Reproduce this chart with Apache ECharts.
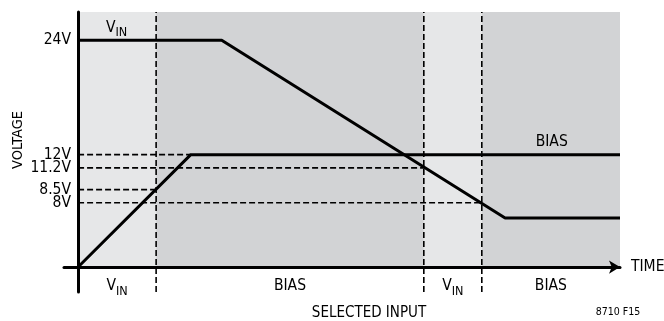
<!DOCTYPE html>
<html>
<head>
<meta charset="utf-8">
<script src="https://cdn.jsdelivr.net/npm/echarts@6/dist/echarts.min.js"></script>
<style>
  html, body { margin: 0; padding: 0; background: #fff; }
  #chart { width: 664px; height: 321px; }
</style>
</head>
<body>
<div id="chart"></div>
<script>
  // schematic diagram: time runs 0..100, voltages sit where the figure draws them
  const voltageTicks = [24, 11.9, 10.5, 8.2, 6.8];
  const voltageLabels = ['24V', '12V', '11.2V', '8.5V', '8V'];
  const levelEnds = [0, 20.8, 63.8, 14.4, 74.5];   // dashed level line stops here (0 = none)
  const vinPath = [[0, 24], [26.5, 24], [78.8, 5.2], [100, 5.2]];
  const biasPath = [[0, 0], [20.8, 11.9], [100, 11.9]];
  const regionEdges = [0, 14.4, 63.8, 74.5, 100];
  const regionInputs = ['VIN', 'BIAS', 'VIN', 'BIAS'];
  const vinTag = [7.1, 25.3];
  const biasTag = [87.4, 13.2];

  const XMIN = -2.6, XMAX = 100, YMIN = -2.64, YMAX = 27;
  const FONT = '"Liberation Sans Narrow", "DejaVu Sans Condensed", sans-serif';
  const FS = 15.5;
  const INK = '#000';
  const shades = ['#e6e7e8', '#d2d3d5'];

  const rich = {
    v: { fontSize: FS, fontFamily: FONT, color: INK, lineHeight: 16, verticalAlign: 'top' },
    s: { fontSize: 12.5, fontFamily: FONT, color: INK, lineHeight: 12, verticalAlign: 'top', padding: [7, 0, 0, 0] },
    b: { fontSize: FS, fontFamily: FONT, color: INK, lineHeight: 16 }
  };
  const tagText = name => name === 'VIN' ? '{v|V}{s|IN}' : '{b|' + name + '}';

  const dashed = { color: INK, width: 1.6, type: [6, 3] };
  const solid = { color: INK, width: 3 };

  function tickName(v) {
    let best = 0;
    voltageTicks.forEach((t, i) => {
      if (Math.abs(t - v) < Math.abs(voltageTicks[best] - v)) best = i;
    });
    return voltageLabels[best];
  }

  // the axis drops the first/last label when it touches its neighbour,
  // so hand the ticks over with the tight pairs away from the ends
  const labelOrder = [4, 0, 1, 2, 3].map(i => voltageTicks[i]);

  let series = [];

  // shaded input regions, labelled under the time axis
  series.push({
    type: 'line',
    data: [],
    silent: true,
    z: 1,
    markArea: {
      silent: true,
      data: regionInputs.map((name, i) => [
        {
          xAxis: regionEdges[i], yAxis: 0,
          itemStyle: { color: name === 'VIN' ? shades[0] : shades[1] },
          label: { show: true, position: 'bottom', distance: 11, formatter: tagText(name), rich: rich }
        },
        { xAxis: regionEdges[i + 1], yAxis: YMAX }
      ])
    }
  });

  voltageTicks.forEach((lvl, i) => {
    if (!levelEnds[i]) return;
    series.push({
      type: 'line', z: 2, symbol: 'none', silent: true,
      data: [[0, lvl], [levelEnds[i], lvl]],
      lineStyle: dashed
    });
  });

  regionEdges.slice(1, -1).forEach(x => {
    series.push({
      type: 'line', z: 2, symbol: 'none', silent: true,
      data: [[x, YMIN], [x, YMAX]],
      lineStyle: dashed
    });
  });

  series.push({
    type: 'line', z: 3, symbol: 'none', silent: true,
    data: vinPath,
    lineStyle: solid,
    markPoint: {
      symbolSize: 1,
      itemStyle: { color: 'transparent' },
      label: { show: true, position: 'inside', formatter: tagText('VIN'), rich: rich },
      data: [{ coord: vinTag }]
    }
  });

  series.push({
    type: 'line', z: 3, symbol: 'none', silent: true,
    data: biasPath,
    lineStyle: solid,
    markPoint: {
      symbolSize: 1,
      itemStyle: { color: 'transparent' },
      label: { show: true, position: 'inside', formatter: tagText('BIAS'), rich: rich },
      data: [{ coord: biasTag }]
    }
  });

  const option = {
    animation: false,
    grid: { left: 64, right: 44, top: 12, bottom: 29, outerBoundsMode: 'none' },
    xAxis: {
      type: 'value', min: XMIN, max: XMAX, z: 10,
      name: 'TIME', nameLocation: 'end', nameGap: 11,
      nameTextStyle: { fontSize: FS, fontFamily: FONT, color: INK, verticalAlign: 'middle' },
      axisLine: { lineStyle: { color: INK, width: 3 }, symbol: ['none', 'arrow'], symbolSize: [10, 11] },
      axisTick: { show: false },
      axisLabel: { show: false },
      splitLine: { show: false }
    },
    yAxis: {
      type: 'value', min: YMIN, max: YMAX, z: 10,
      axisLine: { lineStyle: { color: INK, width: 3 } },
      axisTick: { show: false },
      splitLine: { show: false },
      axisLabel: {
        customValues: labelOrder,
        margin: -7,
        hideOverlap: false,
        showMinLabel: true,
        showMaxLabel: true,
        fontSize: FS, fontFamily: FONT, color: INK,
        formatter: v => tickName(v)
      }
    },
    graphic: [
      { type: 'text', x: 26, y: 140, rotation: Math.PI / 2,
        style: { text: 'VOLTAGE', fontSize: 14.5, fontFamily: FONT, fill: INK, align: 'center', verticalAlign: 'bottom' } },
      { type: 'text', x: 369, y: 313,
        style: { text: 'SELECTED INPUT', fontSize: 15, fontFamily: FONT, fill: INK, align: 'center', verticalAlign: 'middle' } },
      { type: 'text', x: 618, y: 312,
        style: { text: '8710 F15', fontSize: 10.5, fontFamily: FONT, fill: INK, align: 'center', verticalAlign: 'middle' } }
    ],
    series: series
  };

  echarts.init(document.getElementById('chart')).setOption(option);
</script>
</body>
</html>
